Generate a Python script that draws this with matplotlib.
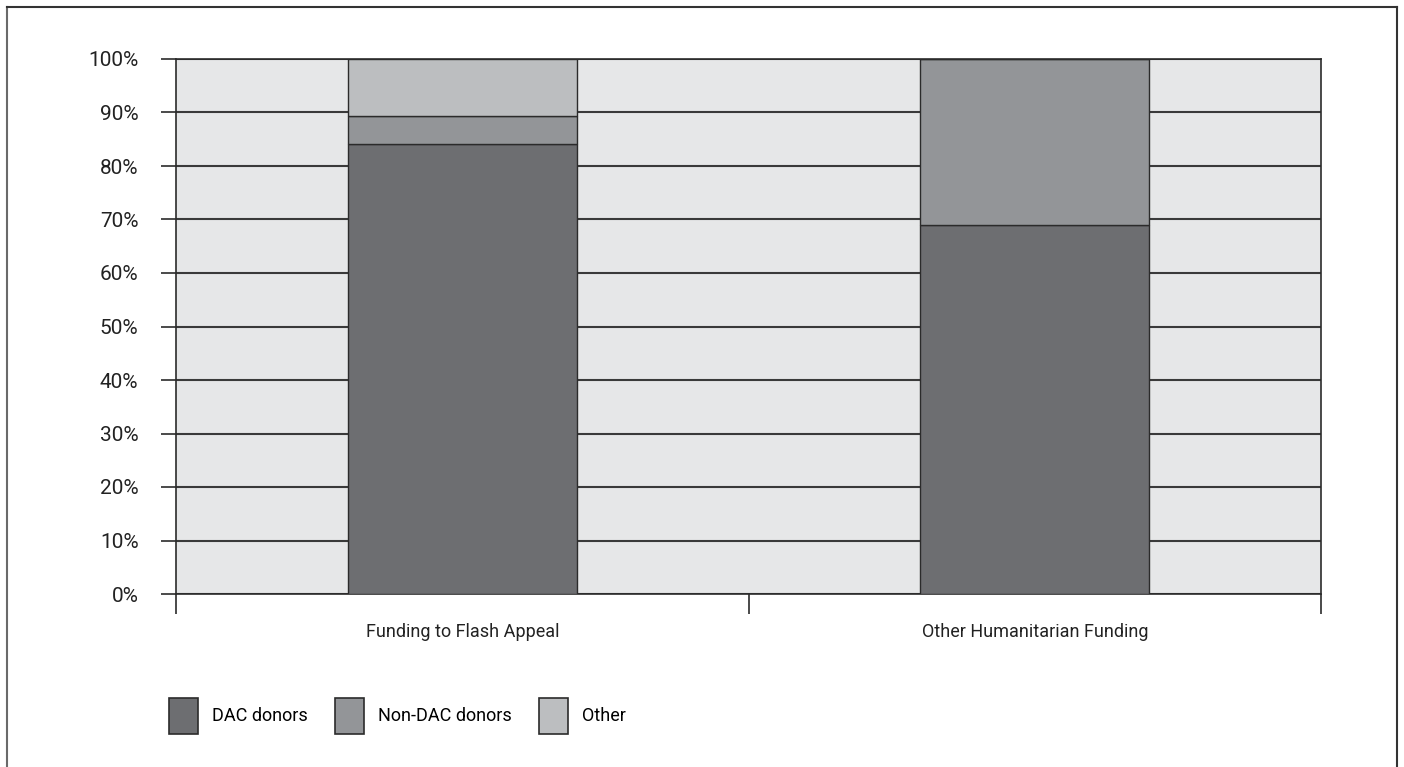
import matplotlib.pyplot as plt
import numpy as np
from matplotlib.lines import Line2D
from matplotlib.patches import Patch

plt.rcParams['font.family'] = ['Roboto', 'Open Sans', 'DejaVu Sans']

# data (percent of total)
categories = ["Funding to Flash Appeal", "Other Humanitarian Funding"]
series_names = ["DAC donors", "Non-DAC donors", "Other"]
dac = [84.1, 69.0]
non_dac = [5.3, 31.0]
other = [10.6, 0.0]
y_ticks = [0, 10, 20, 30, 40, 50, 60, 70, 80, 90, 100]
y_labels = [f"{t}%" for t in y_ticks]

colors = ["#6d6e71", "#939598", "#bcbec0"]
edge = "#2b2b2b"

fig = plt.figure(figsize=(14.04, 7.67), dpi=100)
ax = fig.add_axes([176 / 1404, 1 - 594 / 767, (1321 - 176) / 1404, (594 - 59) / 767])
ax.set_facecolor("#e6e7e8")

x = np.arange(len(categories))
ax.set_axisbelow(True)
ax.yaxis.grid(True, color="#3a3a3a", linewidth=1.5)

bottom = np.zeros(len(categories))
for vals, col, name in zip([dac, non_dac, other], colors, series_names):
    ax.bar(x, vals, width=0.4, bottom=bottom, color=col, edgecolor=edge,
           linewidth=1.0, label=name, zorder=3)
    bottom += np.array(vals)

ax.set_xlim(-0.5, 1.5)
ax.set_ylim(0, 100)
ax.set_yticks(y_ticks)
ax.set_yticklabels(y_labels, fontsize=15, color="#222222")

# category labels between boundary ticks
ax.set_xticks([-0.5, 0.5, 1.5])
ax.set_xticklabels([])
ax.set_xticks(x, minor=True)
ax.set_xticklabels(categories, minor=True, fontsize=13, color="#222222")
ax.tick_params(axis="x", which="major", length=14.5, width=1.2, color=edge, direction="out")
ax.tick_params(axis="x", which="minor", length=0, pad=21)
ax.tick_params(axis="y", length=11, width=1.2, color=edge, pad=16)

for s in ax.spines.values():
    s.set_color(edge)
    s.set_linewidth(1.2)

handles = [Patch(facecolor=c, edgecolor=edge, linewidth=1.2) for c in colors]
fig.legend(handles, series_names, loc="center left",
           bbox_to_anchor=(169 / 1404, 1 - 716 / 767), ncol=3, frameon=False,
           fontsize=13, handlelength=1.6, handleheight=2.7, handletextpad=0.78,
           columnspacing=1.5, borderaxespad=0, borderpad=0)

# figure frame (open at the bottom)
fig.add_artist(Line2D([7 / 1404, 7 / 1404], [0, 1 - 7 / 767], color="#6a6a6a", lw=1.5))
fig.add_artist(Line2D([7 / 1404, 1397 / 1404], [1 - 7 / 767, 1 - 7 / 767], color="#333333", lw=1.5))
fig.add_artist(Line2D([1397 / 1404, 1397 / 1404], [0, 1 - 7 / 767], color="#333333", lw=1.5))

fig.savefig("out.png", dpi=100)
